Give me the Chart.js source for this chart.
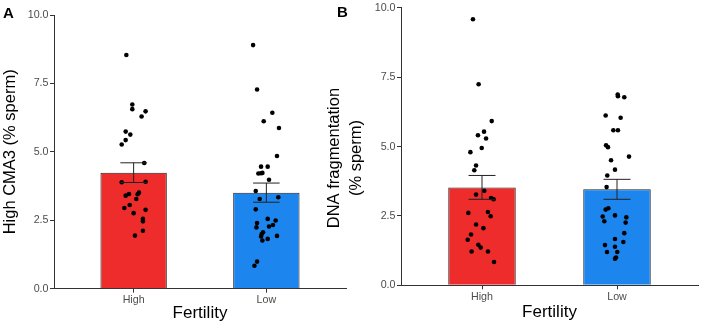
<!DOCTYPE html>
<html>
<head>
<meta charset="utf-8">
<script src="https://cdn.jsdelivr.net/npm/chart.js@4.4.1/dist/chart.umd.min.js"></script>
<style>
  html, body { margin: 0; padding: 0; background: #fff; }
  #wrap { position: relative; width: 702px; height: 326px; overflow: hidden; }
  .panel { position: absolute; top: 0; height: 326px; }
  .tag { position: absolute; font: bold 15px Arial, "Liberation Sans", sans-serif; color: #000; }
</style>
</head>
<body>
<div id="wrap">
  <div class="panel" style="left:0;width:350px"><canvas id="chartA"></canvas></div>
  <div class="panel" style="left:320px;width:382px"><canvas id="chartB"></canvas></div>
  <div class="tag" style="left:3px;top:4px">A</div>
  <div class="tag" style="left:337px;top:3px">B</div>
</div>
<script>
// groups on the x axis
const fertility = ['High', 'Low'];

// panel A: high CMA3 (% sperm), bar = mean, whisker = SEM
const cma3Mean = [4.24, 3.51];
const cma3Sem = [0.36, 0.35];
// individual samples as [jittered x position, value]
const cma3High = [
  [0.945, 8.54], [0.99, 6.73], [0.99, 6.56], [1.09, 6.48], [1.06, 6.29],
  [0.94, 5.74], [0.975, 5.63], [0.94, 5.43], [0.91, 5.27], [1.08, 4.59],
  [0.91, 3.89], [1.09, 3.91], [0.965, 3.46], [0.94, 3.40], [1.04, 3.51],
  [1.03, 3.45], [1.02, 3.28], [0.97, 3.06], [0.93, 2.95], [1.09, 2.88],
  [1.00, 2.76], [1.07, 2.55], [1.07, 2.46], [1.07, 2.12], [1.01, 1.94]
];
const cma3Low = [
  [1.90, 8.90], [1.93, 7.28], [2.045, 6.43], [1.98, 6.12], [2.095, 5.87],
  [2.08, 4.85], [1.96, 4.46], [2.01, 4.46], [1.94, 4.21], [1.96, 4.22],
  [1.97, 4.23], [2.02, 3.98], [1.92, 3.57], [1.95, 3.28], [2.09, 3.34],
  [1.92, 2.90], [2.01, 2.55], [1.93, 2.40], [2.07, 2.49], [1.925, 2.24],
  [2.02, 2.27], [2.05, 2.33], [1.975, 2.06], [1.965, 2.00], [1.96, 1.91],
  [2.08, 1.93], [2.01, 1.82], [1.97, 1.76], [1.93, 0.99], [1.91, 0.84]
];

// panel B: DNA fragmentation (% sperm)
const dnaMean = [3.53, 3.46];
const dnaSem = [0.43, 0.36];
const dnaHigh = [
  [0.933, 9.59], [0.975, 7.25], [1.072, 5.92], [1.015, 5.54], [0.97, 5.41],
  [1.03, 5.29], [0.998, 4.95], [0.914, 4.80], [0.956, 4.32], [0.943, 4.15],
  [1.017, 3.41], [0.956, 3.27], [1.067, 3.15], [1.086, 3.10], [1.044, 2.64],
  [0.899, 2.61], [1.064, 2.49], [0.956, 2.19], [1.01, 2.06], [0.919, 1.83],
  [0.894, 1.64], [0.973, 1.46], [0.99, 1.36], [0.923, 1.22], [1.044, 1.22],
  [1.089, 0.84]
];
const dnaLow = [
  [2.005, 6.88], [2.007, 6.82], [2.054, 6.78], [1.916, 6.12], [2.027, 6.04],
  [1.973, 5.59], [2.007, 5.59], [1.919, 5.05], [1.933, 4.98], [2.089, 4.64],
  [1.956, 4.51], [1.985, 4.17], [1.928, 3.96], [1.923, 3.54], [1.916, 2.73],
  [1.936, 2.78], [1.985, 2.52], [1.894, 2.48], [2.069, 2.45], [1.906, 2.31],
  [2.064, 2.26], [2.054, 1.88], [1.985, 1.67], [1.911, 1.45], [2.047, 1.56],
  [1.985, 1.39], [1.926, 1.20], [2.002, 1.20], [1.993, 1.00], [1.985, 0.96]
];

const yTicks = [0, 2.5, 5, 7.5, 10];
const barColors = ['#EE2C2C', '#1C86EE'];

const FONT = 'Arial, "Liberation Sans", sans-serif';

// mean +/- SEM whiskers
const errorBars = {
  id: 'errorBars',
  afterDatasetsDraw(chart, args, opts) {
    const { ctx, scales: { x, y } } = chart;
    ctx.save();
    ctx.strokeStyle = '#222';
    ctx.lineWidth = 1;
    opts.means.forEach((m, i) => {
      const cx = x.getPixelForValue(i + 1);
      const l = x.getPixelForValue(i + 1 - 0.1);
      const r = x.getPixelForValue(i + 1 + 0.1);
      const top = y.getPixelForValue(m + opts.sems[i]);
      const bot = y.getPixelForValue(m - opts.sems[i]);
      ctx.beginPath();
      ctx.moveTo(cx, top); ctx.lineTo(cx, bot);
      ctx.moveTo(l, top); ctx.lineTo(r, top);
      ctx.moveTo(l, bot); ctx.lineTo(r, bot);
      ctx.stroke();
    });
    ctx.restore();
  }
};

function toPoints(arr) {
  return arr.map(p => ({ x: p[0], y: p[1] }));
}

function makeChart(id, means, sems, highPts, lowPts, yTitle, cfg) {
  const ctx = document.getElementById(id).getContext('2d');
  return new Chart(ctx, {
    type: 'bar',
    data: {
      datasets: [
        {
          type: 'scatter',
          data: toPoints(highPts).concat(toPoints(lowPts)),
          backgroundColor: '#000',
          borderColor: '#000',
          pointRadius: 2.3,
          pointBorderWidth: 0,
          order: 1
        },
        {
          data: means.map((m, i) => ({ x: i + 1, y: m })),
          backgroundColor: barColors,
          borderColor: '#222',
          borderWidth: 1,
          barPercentage: 0.5,
          categoryPercentage: 1,
          order: 2
        }
      ]
    },
    options: {
      responsive: true,
      maintainAspectRatio: false,
      animation: false,
      layout: { padding: { left: 0, right: cfg.padRight, top: cfg.padTop, bottom: 0 } },
      plugins: {
        legend: { display: false },
        tooltip: { enabled: false },
        errorBars: { means: means, sems: sems }
      },
      scales: {
        x: {
          type: 'linear',
          min: 0.4,
          max: 2.6,
          offset: false,
          afterBuildTicks: s => { s.ticks = fertility.map((f, i) => ({ value: i + 1 })); },
          afterFit: s => { s.height = cfg.xHeight; },
          ticks: {
            callback: v => fertility[v - 1],
            color: '#4d4d4d',
            font: { family: FONT, size: 10.7 },
            padding: 1,
            maxRotation: 0
          },
          grid: { display: true, offset: false, drawOnChartArea: false, tickLength: 4, color: '#333' },
          border: { display: true, color: '#333', width: 1 },
          title: {
            display: true,
            text: 'Fertility',
            color: '#000',
            font: { family: FONT, size: 17 },
            padding: { top: 0, bottom: cfg.titlePad }
          }
        },
        y: {
          min: 0,
          max: 10,
          afterBuildTicks: s => { s.ticks = yTicks.map(v => ({ value: v })); },
          afterFit: s => { s.width = cfg.yWidth; },
          ticks: {
            callback: v => v.toFixed(1),
            color: '#4d4d4d',
            font: { family: FONT, size: 10.7 },
            padding: 1.5
          },
          grid: { display: true, drawOnChartArea: false, tickLength: 4, color: '#333' },
          border: { display: true, color: '#333', width: 1 },
          title: {
            display: true,
            text: yTitle,
            color: '#000',
            font: { family: FONT, size: 16.5, lineHeight: 1.3 },
            padding: { top: cfg.yTitlePad, bottom: 0 }
          }
        }
      }
    },
    plugins: [errorBars]
  });
}

makeChart('chartA', cma3Mean, cma3Sem, cma3High, cma3Low, 'High CMA3 (% sperm)',
  { padRight: 3, padTop: 15, xHeight: 37.3, titlePad: 2, yWidth: 54, yTitlePad: 0 });

makeChart('chartB', dnaMean, dnaSem, dnaHigh, dnaLow,
  ['DNA fragmentation     ', '(% sperm)     '],
  { padRight: 2, padTop: 7, xHeight: 40.7, titlePad: 3.5, yWidth: 81, yTitlePad: 4 });
</script>
</body>
</html>
